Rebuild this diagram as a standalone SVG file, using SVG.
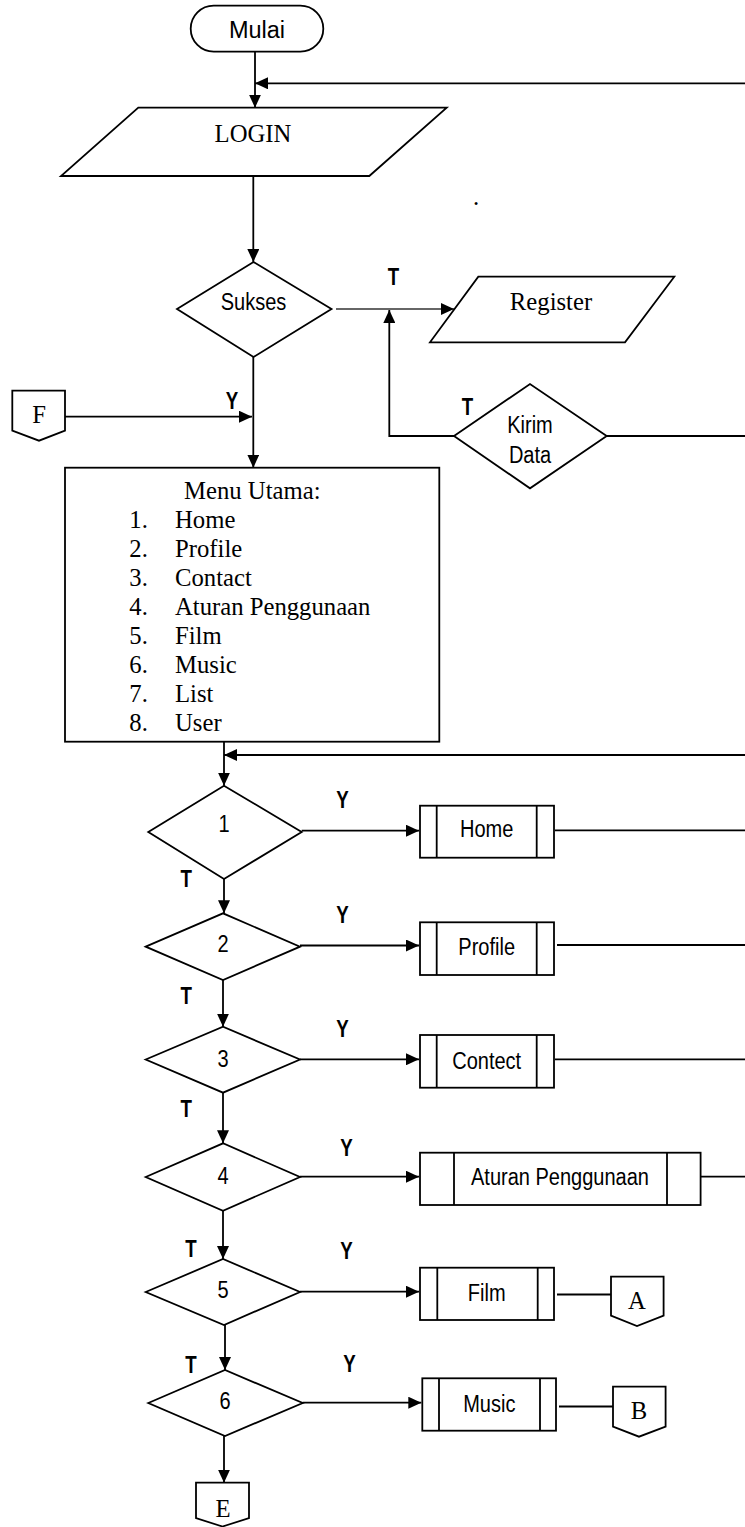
<svg xmlns="http://www.w3.org/2000/svg" width="745" height="1527" viewBox="0 0 745 1527">
<style>
.s{fill:#fff;stroke:#000;stroke-width:1.8}
.c{fill:none;stroke:#000;stroke-width:1.8}
.ca{fill:none;stroke:#000;stroke-width:1.8;marker-end:url(#ah)}
.n{font-family:"Liberation Sans",Arial,sans-serif;font-size:23px;text-anchor:middle;fill:#000}
.b{font-family:"Liberation Sans",Arial,sans-serif;font-size:24px;font-weight:bold;text-anchor:middle;fill:#000}
.t{font-family:"Liberation Serif","Times New Roman",serif;font-size:24.7px;fill:#000}
.m{text-anchor:middle}
</style>
<defs>
<marker id="ah" markerUnits="userSpaceOnUse" markerWidth="14" markerHeight="12" refX="13" refY="6" orient="auto">
<path d="M0,0 L13,6 L0,12 Z" fill="#000"/>
</marker>
</defs>
<g id="connectors">
<path class="ca" d="M255,51.7 V107.7"/>
<path class="ca" d="M745,83.3 H255"/>
<path class="ca" d="M253.3,176 V262"/>
<path class="ca" d="M336,309 H454" style="stroke:#333;stroke-width:1.5"/>
<path class="ca" d="M454,436 H389.3 V310"/>
<path class="c" d="M606.7,436 H745"/>
<path class="ca" d="M253.3,357 V467.7"/>
<path class="ca" d="M65,416.7 H252"/>
<path class="ca" d="M224,741.7 V785.7"/>
<path class="ca" d="M745,755 H224"/>
<path class="ca" d="M301.7,830.7 H419"/>
<path class="c" d="M555,830.3 H745"/>
<path class="ca" d="M224,879 V913.3"/>
<path class="ca" d="M300,945.5 H419"/>
<path class="c" d="M557,945 H745"/>
<path class="ca" d="M223,980 V1026.7"/>
<path class="ca" d="M300,1059.3 H419"/>
<path class="c" d="M555,1059.3 H745"/>
<path class="ca" d="M223,1092.7 V1143.3"/>
<path class="ca" d="M300,1176.7 H419"/>
<path class="c" d="M701,1176.7 H745"/>
<path class="ca" d="M223,1210.7 V1259"/>
<path class="ca" d="M300,1291.7 H419"/>
<path class="c" d="M557,1294.5 H611"/>
<path class="ca" d="M225,1325 V1370"/>
<path class="ca" d="M302.7,1402.7 H421.3"/>
<path class="c" d="M559,1406.5 H613"/>
<path class="ca" d="M224,1436 V1482.7"/>
</g>
<g id="labels">
<text class="b" transform="translate(393.5,285) scale(.78,1)">T</text>
<text class="b" transform="translate(467.5,415) scale(.78,1)">T</text>
<text class="b" transform="translate(232,409.3) scale(.78,1)">Y</text>
<text class="b" transform="translate(342.5,808.3) scale(.78,1)">Y</text>
<text class="b" transform="translate(186.3,887.3) scale(.78,1)">T</text>
<text class="b" transform="translate(342.5,923.3) scale(.78,1)">Y</text>
<text class="b" transform="translate(186.3,1004) scale(.78,1)">T</text>
<text class="b" transform="translate(342.5,1036.7) scale(.78,1)">Y</text>
<text class="b" transform="translate(186.3,1116.7) scale(.78,1)">T</text>
<text class="b" transform="translate(346.5,1156) scale(.78,1)">Y</text>
<text class="b" transform="translate(191,1256.7) scale(.78,1)">T</text>
<text class="b" transform="translate(346.5,1259) scale(.78,1)">Y</text>
<text class="b" transform="translate(191,1372.7) scale(.78,1)">T</text>
<text class="b" transform="translate(349.5,1371.7) scale(.78,1)">Y</text>
<text class="t" x="473" y="205">.</text>
</g>
<g id="mulai">
<rect class="s" x="190.7" y="5.7" width="132.6" height="46" rx="23"/>
<text x="257" y="38.3" style="font-family:'Liberation Sans',Arial,sans-serif;font-size:23.5px;text-anchor:middle">Mulai</text>
</g>
<g id="login">
<polygon class="s" points="138.3,107.7 446.7,107.7 369.3,176 61,176"/>
<text class="t m" x="253" y="141.7">LOGIN</text>
</g>
<g id="sukses">
<polygon class="s" points="177,309 253.5,262 331.5,309 253.5,357"/>
<text class="n" transform="translate(253.5,310) scale(.87,1)">Sukses</text>
</g>
<g id="register">
<polygon class="s" points="478.3,276.7 674.3,276.7 625,342.3 430,342.3"/>
<text class="t m" x="551" y="310">Register</text>
</g>
<g id="kirim-data">
<polygon class="s" points="454,436 530,384 606.7,436 530,488.3"/>
<text class="n" transform="translate(530,433.3) scale(.87,1)">Kirim</text>
<text class="n" transform="translate(530,462.7) scale(.87,1)">Data</text>
</g>
<g id="conn-f">
<path class="s" d="M12.3,390.7 H65 V430.7 L39,440.7 L12.3,430.7 Z"/>
<text class="t m" x="39" y="423.3">F</text>
</g>
<g id="menu-utama">
<rect class="s" x="65" y="467.7" width="374.3" height="274"/>
<text class="t m" x="252.3" y="499.3">Menu Utama:</text>
<g class="t">
<text x="129.3" y="528.3">1.</text><text x="175" y="528.3">Home</text>
<text x="129.3" y="557.2">2.</text><text x="175" y="557.2">Profile</text>
<text x="129.3" y="586.1">3.</text><text x="175" y="586.1">Contact</text>
<text x="129.3" y="615">4.</text><text x="175" y="615">Aturan Penggunaan</text>
<text x="129.3" y="643.9">5.</text><text x="175" y="643.9">Film</text>
<text x="129.3" y="672.8">6.</text><text x="175" y="672.8">Music</text>
<text x="129.3" y="701.7">7.</text><text x="175" y="701.7">List</text>
<text x="129.3" y="730.6">8.</text><text x="175" y="730.6">User</text>
</g>
</g>
<g id="d1">
<polygon class="s" points="148.3,832 224,785.7 301.7,832 224,879"/>
<text class="n" transform="translate(224,832) scale(.87,1)">1</text>
</g>
<g id="home">
<rect class="s" x="420" y="805.7" width="134" height="52"/>
<path class="c" d="M436.7,805.7 V857.7 M536.7,805.7 V857.7"/>
<text class="n" transform="translate(486.7,837.3) scale(.87,1)">Home</text>
</g>
<g id="d2">
<polygon class="s" points="145.7,946.7 223,913.3 300,946.7 223,980"/>
<text class="n" transform="translate(223,952.3) scale(.87,1)">2</text>
</g>
<g id="profile">
<rect class="s" x="420" y="922.3" width="134" height="52.7"/>
<path class="c" d="M436.7,922.3 V975 M536.7,922.3 V975"/>
<text class="n" transform="translate(486.7,955) scale(.87,1)">Profile</text>
</g>
<g id="d3">
<polygon class="s" points="145.7,1059.5 223,1026.7 300,1059.5 223,1092.7"/>
<text class="n" transform="translate(223,1066.7) scale(.87,1)">3</text>
</g>
<g id="contect">
<rect class="s" x="420" y="1035" width="134" height="52.7"/>
<path class="c" d="M436.7,1035 V1087.7 M536.7,1035 V1087.7"/>
<text class="n" transform="translate(486.7,1069.3) scale(.87,1)">Contect</text>
</g>
<g id="d4">
<polygon class="s" points="145.7,1177 223,1143.3 300,1177 223,1210.7"/>
<text class="n" transform="translate(223,1184) scale(.87,1)">4</text>
</g>
<g id="aturan">
<rect class="s" x="420" y="1152.7" width="280.6" height="52.3"/>
<path class="c" d="M454,1152.7 V1205 M667,1152.7 V1205"/>
<text class="n" transform="translate(560,1185) scale(.87,1)">Aturan Penggunaan</text>
</g>
<g id="d5">
<polygon class="s" points="145.7,1292 223,1259 300,1292 224,1325"/>
<text class="n" transform="translate(223,1298.3) scale(.87,1)">5</text>
</g>
<g id="film">
<rect class="s" x="420" y="1267.7" width="134" height="52.3"/>
<path class="c" d="M437.3,1267.7 V1320 M537.7,1267.7 V1320"/>
<text class="n" transform="translate(486.7,1300.7) scale(.87,1)">Film</text>
</g>
<g id="conn-a">
<path class="s" d="M611,1276.7 H663.6 V1315.7 L637,1326 L611,1315.7 Z"/>
<text class="t m" x="637" y="1309.3">A</text>
</g>
<g id="d6">
<polygon class="s" points="148.3,1403 225,1370 302.7,1403 225,1436"/>
<text class="n" transform="translate(225,1409.3) scale(.87,1)">6</text>
</g>
<g id="music">
<rect class="s" x="422.3" y="1378.3" width="133.7" height="52.4"/>
<path class="c" d="M439,1378.3 V1430.7 M540,1378.3 V1430.7"/>
<text class="n" transform="translate(489.3,1411.7) scale(.87,1)">Music</text>
</g>
<g id="conn-b">
<path class="s" d="M613,1386.7 H665.6 V1426.7 L639,1436.7 L613,1426.7 Z"/>
<text class="t m" x="639" y="1419.3">B</text>
</g>
<g id="conn-e">
<path class="s" d="M196,1482.7 H249 V1518 L222.5,1526.5 L196,1518 Z"/>
<text class="t m" x="223" y="1516.7">E</text>
</g>
</svg>
